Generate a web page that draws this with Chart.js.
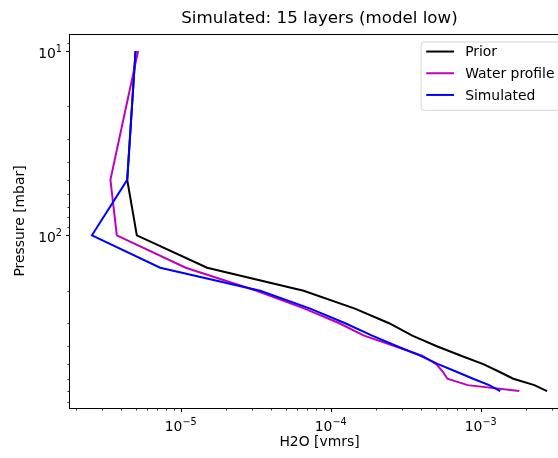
<!DOCTYPE html>
<html>
<head>
<meta charset="utf-8">
<title>Simulated water profile</title>
<script src="https://cdn.jsdelivr.net/npm/chart.js@4.4.0/dist/chart.umd.min.js"></script>
<style>
    html, body { margin: 0; padding: 0; background: #fff; overflow: hidden; }
    canvas { display: block; }
</style>
</head>
<body>
<canvas id="profile-chart" width="600" height="458"></canvas>
<script>
// pressure levels [mbar], one per layer
const pressureLevels = [10, 50, 100, 150, 200, 250, 300, 350, 400, 450, 500, 550, 600, 650, 700];

// H2O mixing ratios [vmrs] at each level
const priorH2O = [5.0e-6, 4.4e-6, 5.1e-6, 1.5e-5, 6.6e-5, 1.45e-4, 2.45e-4, 3.5e-4, 5.1e-4, 7.4e-4, 1.04e-3, 1.33e-3, 1.65e-3, 2.28e-3, 2.77e-3];
const waterProfileH2O = [5.2e-6, 3.4e-6, 3.75e-6, 1.08e-5, 3.2e-5, 6.7e-5, 1.14e-4, 1.67e-4, 2.69e-4, 4.07e-4, 5.05e-4, 5.6e-4, 6.0e-4, 8.2e-4, 1.81e-3];
const simulatedH2O = [5.0e-6, 4.4e-6, 2.56e-6, 7.3e-6, 3.39e-5, 7.3e-5, 1.25e-4, 1.89e-4, 2.77e-4, 3.95e-4, 5.2e-4, 6.9e-4, 8.9e-4, 1.14e-3, 1.35e-3];

// axis ticks; major labels are written as base + exponent
const xMajorTicks = [1e-5, 1e-4, 1e-3];
const xMajorLabels = [['10', '\u22125'], ['10', '\u22124'], ['10', '\u22123']];
const xMinorTicks = [2e-6, 3e-6, 4e-6, 5e-6, 6e-6, 7e-6, 8e-6, 9e-6,
    2e-5, 3e-5, 4e-5, 5e-5, 6e-5, 7e-5, 8e-5, 9e-5,
    2e-4, 3e-4, 4e-4, 5e-4, 6e-4, 7e-4, 8e-4, 9e-4,
    2e-3, 3e-3];
const yMajorTicks = [10, 100];
const yMajorLabels = [['10', '1'], ['10', '2']];
const yMinorTicks = [9, 20, 30, 40, 50, 60, 70, 80, 90, 200, 300, 400, 500, 600, 700, 800];

const FONT = "'DejaVu Sans', sans-serif";
const LABEL_SIZE = 13.9;
const SUP_SIZE = 9.7;

function toPoints(values) {
    return values.map((v, i) => ({ x: v, y: pressureLevels[i] }));
}

function isMajor(value, majors) {
    return majors.some(m => Math.abs(value / m - 1) < 1e-6);
}

function setTicks(majors, minors) {
    return function (scale) {
        scale.ticks = majors.concat(minors)
            .sort((a, b) => a - b)
            .map(v => ({ value: v, major: isMajor(v, majors) }));
    };
}

// "10" with a raised exponent; align is 'center' or 'right'
function drawPowerLabel(ctx, label, x, baseline, align) {
    ctx.font = LABEL_SIZE + 'px ' + FONT;
    const bw = ctx.measureText(label[0]).width;
    ctx.font = SUP_SIZE + 'px ' + FONT;
    const ew = ctx.measureText(label[1]).width;
    const left = align === 'center' ? x - (bw + ew) / 2 : x - bw - ew;
    ctx.textAlign = 'left';
    ctx.textBaseline = 'alphabetic';
    ctx.font = LABEL_SIZE + 'px ' + FONT;
    ctx.fillText(label[0], left, baseline);
    ctx.font = SUP_SIZE + 'px ' + FONT;
    ctx.fillText(label[1], left + bw, baseline - 6);
}

// frame, tick marks, tick labels and the legend box inside the plot
const axesDecor = {
    id: 'axesDecor',
    afterDraw(chart) {
        const ctx = chart.ctx;
        const area = chart.chartArea;
        ctx.save();

        ctx.strokeStyle = '#000';
        ctx.fillStyle = '#000';
        ctx.lineWidth = 1;
        ctx.strokeRect(Math.round(area.left) + 0.5, Math.round(area.top) + 0.5,
            Math.round(area.right - area.left), Math.round(area.bottom - area.top));

        const xs = chart.scales.x;
        const y0 = Math.round(area.bottom) + 0.5;
        xs.ticks.forEach(t => {
            const major = isMajor(t.value, xMajorTicks);
            const px = Math.round(xs.getPixelForValue(t.value)) + 0.5;
            ctx.lineWidth = major ? 1.1 : 0.8;
            ctx.beginPath();
            ctx.moveTo(px, y0);
            ctx.lineTo(px, y0 + (major ? 3.5 : 2));
            ctx.stroke();
        });
        xMajorTicks.forEach((v, i) => {
            drawPowerLabel(ctx, xMajorLabels[i], xs.getPixelForValue(v), area.bottom + 22.5, 'center');
        });

        const ys = chart.scales.y;
        const x0 = Math.round(area.left) + 0.5;
        ys.ticks.forEach(t => {
            const major = isMajor(t.value, yMajorTicks);
            const py = Math.round(ys.getPixelForValue(t.value)) + 0.5;
            ctx.lineWidth = major ? 1.1 : 0.8;
            ctx.beginPath();
            ctx.moveTo(x0, py);
            ctx.lineTo(x0 - (major ? 3.5 : 2), py);
            ctx.stroke();
        });
        yMajorTicks.forEach((v, i) => {
            drawPowerLabel(ctx, yMajorLabels[i], area.left - 7, ys.getPixelForValue(v) + 6.5, 'right');
        });

        // legend, upper right
        const fs = LABEL_SIZE;
        ctx.font = fs + 'px ' + FONT;
        const items = chart.data.datasets;
        const textW = Math.max(...items.map(d => ctx.measureText(d.label).width));
        const pad = 0.4 * fs, handleLen = 2 * fs, textPad = 0.8 * fs;
        const rowH = 21.7;
        const boxW = pad + handleLen + textPad + textW + pad + 3;
        const boxH = 68.3;
        const boxR = area.right - 0.5 * fs;
        const boxL = boxR - boxW;
        const boxT = area.top + 7.5;

        ctx.beginPath();
        ctx.roundRect(boxL + 0.5, boxT + 0.5, boxW, boxH, 3);
        ctx.fillStyle = 'rgba(255,255,255,0.8)';
        ctx.fill();
        ctx.strokeStyle = '#d6d6d6';
        ctx.lineWidth = 1;
        ctx.stroke();

        ctx.textBaseline = 'middle';
        ctx.textAlign = 'left';
        items.forEach((d, i) => {
            const cy = boxT + 10 + i * rowH;
            ctx.strokeStyle = d.borderColor;
            ctx.lineWidth = 2;
            ctx.beginPath();
            ctx.moveTo(boxL + pad, cy);
            ctx.lineTo(boxL + pad + handleLen, cy);
            ctx.stroke();
            ctx.fillStyle = '#000';
            ctx.fillText(d.label, boxL + pad + handleLen + textPad, cy + 1);
        });
        ctx.restore();
    }
};

Chart.defaults.font.family = FONT;
Chart.defaults.color = '#000';

const ctx = document.getElementById('profile-chart').getContext('2d');
const profileChart = new Chart(ctx, {
    type: 'scatter',
    data: {
        datasets: [{
            label: 'Prior',
            data: toPoints(priorH2O),
            borderColor: '#000000',
            order: 3,
        }, {
            label: 'Water profile',
            data: toPoints(waterProfileH2O),
            borderColor: '#bf00bf',
            order: 2,
        }, {
            label: 'Simulated',
            data: toPoints(simulatedH2O),
            borderColor: '#0000ff',
            order: 1,
        }].map(ds => Object.assign(ds, {
            showLine: true,
            borderWidth: 2,
            pointRadius: 0,
            tension: 0,
            fill: false,
        })),
    },
    options: {
        responsive: false,
        animation: false,
        devicePixelRatio: 1,
        layout: { padding: { left: 0, right: 30, top: 0, bottom: 0 } },
        plugins: {
            legend: { display: false },
            tooltip: { enabled: false },
            title: {
                display: true,
                text: 'Simulated: 15 layers (model low)',
                fullSize: false,
                color: '#000',
                font: { size: 16.7, weight: 'normal', lineHeight: 1.2 },
                padding: { top: 9, bottom: 5 },
            },
        },
        scales: {
            x: {
                type: 'logarithmic',
                position: 'bottom',
                min: 1.8e-6,
                max: 3.94e-3,
                afterBuildTicks: setTicks(xMajorTicks, xMinorTicks),
                afterFit: scale => { scale.height = 50; },
                border: { display: false },
                grid: { display: false },
                ticks: { display: false },
                title: {
                    display: true,
                    text: 'H2O [vmrs]',
                    font: { size: LABEL_SIZE },
                    padding: { top: 0, bottom: 7 },
                },
            },
            y: {
                type: 'logarithmic',
                position: 'left',
                reverse: true,
                min: 8.09,
                max: 865,
                afterBuildTicks: setTicks(yMajorTicks, yMinorTicks),
                afterFit: scale => { scale.width = 69; },
                border: { display: false },
                grid: { display: false },
                ticks: { display: false },
                title: {
                    display: true,
                    text: 'Pressure [mbar]',
                    font: { size: LABEL_SIZE },
                    padding: { top: 12, bottom: 0 },
                },
            },
        },
    },
    plugins: [axesDecor],
});
</script>
</body>
</html>
